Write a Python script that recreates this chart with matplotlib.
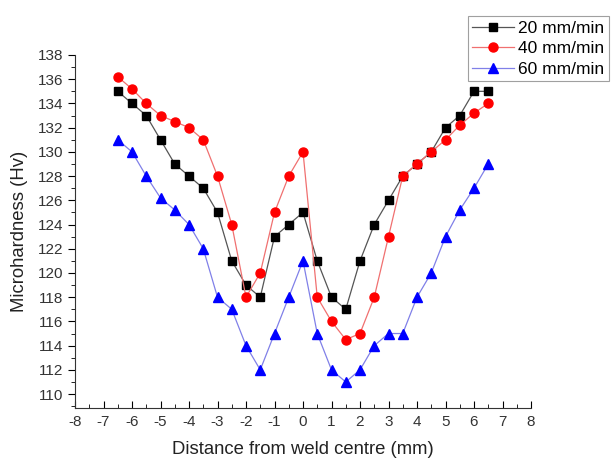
import matplotlib.pyplot as plt
from matplotlib.ticker import MultipleLocator

plt.rcParams['font.family'] = ['Liberation Sans', 'DejaVu Sans']
plt.rcParams['axes.unicode_minus'] = False

# distance from weld centre (mm)
distance = [-6.5, -6, -5.5, -5, -4.5, -4, -3.5, -3, -2.5, -2, -1.5, -1, -0.5, 0,
            0.5, 1, 1.5, 2, 2.5, 3, 3.5, 4, 4.5, 5, 5.5, 6, 6.5]

hv_20 = [135, 134, 133, 131, 129, 128, 127, 125, 121, 119, 118, 123, 124, 125,
         121, 118, 117, 121, 124, 126, 128, 129, 130, 132, 133, 135, 135]
hv_40 = [136.2, 135.2, 134, 133, 132.5, 132, 131, 128, 124, 118, 120, 125, 128, 130,
         118, 116, 114.5, 115, 118, 123, 128, 129, 130, 131, 132.2, 133.2, 134]
hv_60 = [131, 130, 128, 126.2, 125.2, 124, 122, 118, 117, 114, 112, 115, 118, 121,
         115, 112, 111, 112, 114, 115, 115, 118, 120, 123, 125.2, 127, 129]

labels = ['20 mm/min', '40 mm/min', '60 mm/min']

fig = plt.figure(figsize=(6.12, 4.62), dpi=100)
ax = fig.add_axes([75 / 612, 1 - 408 / 462, 456 / 612, 353 / 462])

ax.plot(distance, hv_20, color='#555555', lw=0.9, marker='s', ms=5.5,
        mfc='black', mec='black', label=labels[0])
ax.plot(distance, hv_40, color='#f07070', lw=0.9, marker='o', ms=6.5,
        mfc='red', mec='red', label=labels[1])
ax.plot(distance, hv_60, color='#8080e8', lw=0.9, marker='^', ms=7,
        mfc='blue', mec='blue', label=labels[2])

ax.set_xlim(-8, 8)
ax.set_ylim(108.85, 138)
ax.xaxis.set_major_locator(MultipleLocator(1))
ax.xaxis.set_minor_locator(MultipleLocator(0.5))
ax.yaxis.set_major_locator(MultipleLocator(2))
ax.yaxis.set_minor_locator(MultipleLocator(1))
ax.tick_params(axis='x', which='major', direction='in', length=5, labelsize=11,
               pad=5, labelcolor='#333333')
ax.tick_params(axis='x', which='minor', direction='in', length=3)
ax.tick_params(axis='y', which='major', direction='out', length=5, labelsize=11,
               labelcolor='#333333')
ax.tick_params(axis='y', which='minor', direction='out', length=3)
ax.spines['top'].set_visible(False)
ax.spines['right'].set_visible(False)
for s in ['left', 'bottom']:
    ax.spines[s].set_color('#333333')

ax.set_xlabel('Distance from weld centre (mm)', fontsize=13.3, color='#222222', labelpad=9)
ax.set_ylabel('Microhardness (Hv)', fontsize=13.3, color='#222222', labelpad=7)

leg = fig.legend(loc='lower left', bbox_to_anchor=(468 / 612, 1 - 81 / 462),
                 fontsize=12.5, frameon=True, fancybox=False, handlelength=2.4,
                 handletextpad=0.25, labelspacing=0.3, borderpad=0.25,
                 borderaxespad=0)
leg.get_frame().set_edgecolor('#888888')
leg.get_frame().set_linewidth(0.8)

fig.savefig('out.png', dpi=100)
